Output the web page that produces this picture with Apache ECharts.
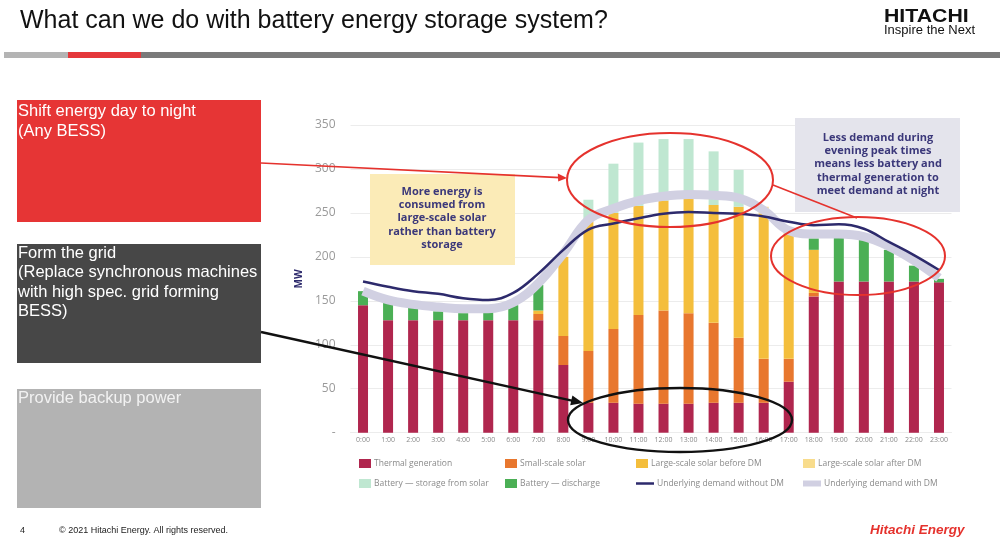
<!DOCTYPE html>
<html>
<head>
<meta charset="utf-8">
<script src="https://cdn.jsdelivr.net/npm/echarts@6/dist/echarts.min.js"></script>
<style>
html,body{margin:0;padding:0;background:#fff;}
#c{width:1000px;height:544px;}
</style>
</head>
<body>
<div id="c"></div>
<script>
var hours = ['0:00','1:00','2:00','3:00','4:00','5:00','6:00','7:00','8:00','9:00','10:00','11:00','12:00','13:00','14:00','15:00','16:00','17:00','18:00','19:00','20:00','21:00','22:00','23:00'];
var yTicks = [0,50,100,150,200,250,300,350];
var thermal      = [145,128,128,128,128,128,128,128,77,34,34,33,33,33,34,34,34,58,155,172,172,172,172,171];
var smallSolar   = [0,0,0,0,0,0,0,7,33,59,84,101,106,103,91,74,50,26,4,0,0,0,0,0];
var largeBefore  = [0,0,0,0,0,0,0,4,90,147,132,124,125,130,134,149,165,143,49,0,0,0,0,0];
var largeAfter   = [0,0,0,0,0,0,0,0,0,0,0,0,0,0,0,0,8,5,0,0,0,0,0,0];
var storage      = [0,0,0,0,0,0,0,0,0,25,56,72,70,68,61,42,0,0,0,0,0,0,0,0];
var discharge    = [16,20,14,10,8,10,17,29,0,0,0,0,0,0,0,0,0,0,13,51,48,36,18,4];
var demandNoDM   = [172,166,161,158,153,151,159,181,208,231,238,244,249,251,250,249,246,240,236,237,232,217,202,185];
var demandDM     = [161,151,146,143,141,141,148,170,204,242,255,264,269,271,270,267,253,230,226,226,223,212,196,176];

var names = ['Thermal generation','Small-scale solar','Large-scale solar before DM','Large-scale solar after DM',
             'Battery \u2014 storage from solar','Battery \u2014 discharge','Underlying demand without DM','Underlying demand with DM'];
var colors = ['#B0264E','#E8772E','#F4BE3C','#F8DC8C','#BFE7D1','#4BAF55','#2D2A6C','#D1D0E2'];
var barData = [thermal, smallSolar, largeBefore, largeAfter, storage, discharge];

var chart = echarts.init(document.getElementById('c'));
var series = [];
for (var i = 0; i < 6; i++) {
  series.push({
    name: names[i], type: 'bar', stack: 'gen', data: barData[i], barWidth: 10,
    itemStyle: {color: colors[i]}, z: 2
  });
}
series.push({
  name: names[7], type: 'line', data: demandDM, smooth: 0.4, symbol: 'none',
  lineStyle: {color: colors[7], width: 9}, itemStyle: {color: colors[7]}, z: 3
});
series.push({
  name: names[6], type: 'line', data: demandNoDM, smooth: 0.4, symbol: 'none',
  lineStyle: {color: colors[6], width: 2.5}, itemStyle: {color: colors[6]}, z: 4
});

var legPos = [
  [359,459,12,9],[505,459,12,9],[636,459,12,9],[803,459,12,9],
  [359,479,12,9],[505,479,12,9],[636,479,18,2.5],[803,479,18,6]
];
var legends = legPos.map(function(p, k){
  return {
    left: p[0], top: p[1], padding: 0, itemWidth: p[2], itemHeight: p[3],
    data: [{name: names[k], icon: 'rect'}], selectedMode: false, itemGap: 0,
    textStyle: {fontSize: 8.5, color: '#8a8a8a', fontFamily: 'Open Sans', padding: [0,0,0,-2]},
    height: 10
  };
});

var title = 'What can we do with battery energy storage system?';
var graphics = [
  {type:'text', left:20, top:9, style:{text:title, font:'25px "Liberation Sans", Arial', fill:'#111'}},
  {type:'text', x:884, y:7, scaleX:1.12, style:{text:'HITACHI', font:'bold 19px "Liberation Sans", Arial', fill:'#111'}},
  {type:'text', x:884, y:24, style:{text:'Inspire the Next', font:'13px "Liberation Sans", Arial', fill:'#111'}},
  {type:'rect', shape:{x:4,y:52,width:64,height:6}, style:{fill:'#B4B4B4'}},
  {type:'rect', shape:{x:68,y:52,width:73,height:6}, style:{fill:'#E5383B'}},
  {type:'rect', shape:{x:141,y:52,width:859,height:6}, style:{fill:'#7A7A7A'}},
  {type:'rect', shape:{x:17,y:100,width:244,height:122}, style:{fill:'#E63535'}},
  {type:'text', left:18, top:101, style:{text:'Shift energy day to night\n(Any BESS)', font:'16.5px "Liberation Sans", Arial', fill:'#fff', lineHeight:20}},
  {type:'rect', shape:{x:17,y:244,width:244,height:119}, style:{fill:'#474747'}},
  {type:'text', left:18, top:244, style:{text:'Form the grid\n(Replace synchronous machines\nwith high spec. grid forming\nBESS)', font:'16.5px "Liberation Sans", Arial', fill:'#fff', lineHeight:19.3}},
  {type:'rect', shape:{x:17,y:389,width:244,height:119}, style:{fill:'#B3B3B3'}},
  {type:'text', left:18, top:389, style:{text:'Provide backup power', font:'16.5px "Liberation Sans", Arial', fill:'#F2F2F2', lineHeight:19.3}},
  {type:'text', left:20, top:526, style:{text:'4', font:'9px "Liberation Sans", Arial', fill:'#222'}},
  {type:'text', left:59, top:526, style:{text:'\u00A9 2021 Hitachi Energy. All rights reserved.', font:'9px "Liberation Sans", Arial', fill:'#222'}},
  {type:'text', left:870, top:523, style:{text:'Hitachi Energy', font:'italic bold 13.5px "Liberation Sans", Arial', fill:'#E5322D'}},
  // annotation boxes
  {type:'rect', z:10, shape:{x:370,y:174,width:145,height:91}, style:{fill:'#FBEBB7'}},
  {type:'text', z:11, x:442, y:185, style:{text:'More energy is\nconsumed from\nlarge-scale solar\nrather than battery\nstorage', font:'bold 11px "Open Sans"', fill:'#3B387A', align:'center', lineHeight:13.3}},
  {type:'rect', z:10, shape:{x:795,y:118,width:165,height:94}, style:{fill:'#E4E4EC'}},
  {type:'text', z:11, x:878, y:131, style:{text:'Less demand during\nevening peak times\nmeans less battery and\nthermal generation to\nmeet demand at night', font:'bold 11px "Open Sans"', fill:'#3B387A', align:'center', lineHeight:13.3}},
  // red annotations
  {type:'line', z:12, shape:{x1:261,y1:163,x2:560,y2:177.6}, style:{stroke:'#E5322D', lineWidth:1.6}},
  {type:'polygon', z:12, shape:{points:[[567,178],[558.2,181.6],[557.8,173.6]]}, style:{fill:'#E5322D'}},
  {type:'ellipse', z:12, shape:{cx:670,cy:180,rx:103,ry:47}, style:{fill:'none', stroke:'#E5322D', lineWidth:2}},
  {type:'line', z:12, shape:{x1:773,y1:185,x2:857,y2:218}, style:{stroke:'#E5322D', lineWidth:1.6}},
  {type:'ellipse', z:12, shape:{cx:858,cy:256,rx:87,ry:39}, style:{fill:'none', stroke:'#E5322D', lineWidth:2}},
  // black annotations
  {type:'line', z:12, shape:{x1:261,y1:332,x2:573,y2:400.8}, style:{stroke:'#111', lineWidth:2.4}},
  {type:'polygon', z:12, shape:{points:[[583,403],[570.2,405.3],[572.4,395.5]]}, style:{fill:'#111'}},
  {type:'ellipse', z:12, shape:{cx:680,cy:420,rx:112,ry:32}, style:{fill:'none', stroke:'#111', lineWidth:2.4}}
];

chart.setOption({
  animation: false,
  backgroundColor: '#fff',
  grid: {left: 350.5, right: 48.5, top: 125, bottom: 111.3, containLabel: false},
  legend: legends,
  xAxis: {
    type: 'category', data: hours,
    axisLine: {show: true, lineStyle: {color: '#ececec'}},
    axisTick: {show: false},
    axisLabel: {fontSize: 7, color: '#8a8a8a', margin: 4, interval: 0, fontFamily: 'Open Sans'}
  },
  yAxis: {
    type: 'value', min: yTicks[0], max: yTicks[yTicks.length-1], interval: 50,
    name: 'MW', nameLocation: 'middle', nameGap: 40, nameRotate: 90,
    nameTextStyle: {color: '#2D2A6C', fontWeight: 'bold', fontSize: 10, fontFamily: 'Open Sans'},
    axisLine: {show: false}, axisTick: {show: false},
    axisLabel: {fontSize: 12, color: '#9a9a9a', margin: 15, fontFamily: 'Open Sans',
      formatter: function(v){ return v === 0 ? '-' : String(v); }},
    splitLine: {lineStyle: {color: '#ececec'}}
  },
  series: series,
  graphic: graphics
});
</script>
</body>
</html>
